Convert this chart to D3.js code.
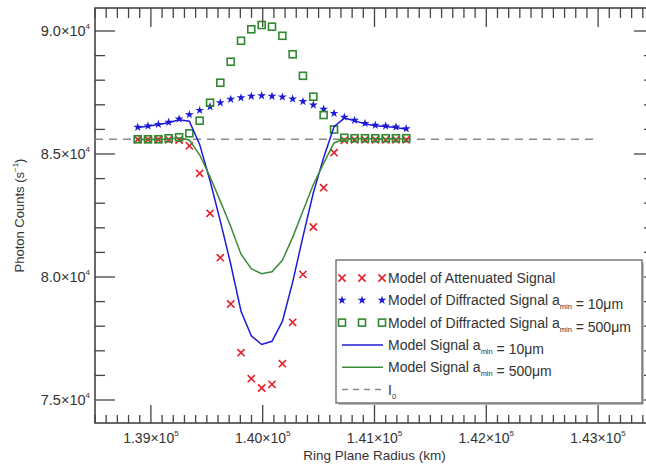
<!DOCTYPE html>
<html>
<head>
<meta charset="utf-8">
<script src="https://cdn.jsdelivr.net/npm/d3@7"></script>
<style>
  body { margin: 0; background: #fff; }
  svg { display: block; }
  text { font-family: "Liberation Sans", Arial, Helvetica, sans-serif; fill: #333; }
</style>
</head>
<body>
<svg id="chart" width="646" height="464"></svg>
<script>
// Ring plane radius of each model sample (km)
const radius = [138882, 138974, 139067, 139159, 139252, 139344, 139436, 139529, 139621,
  139714, 139806, 139898, 139991, 140083, 140176, 140268, 140360, 140453, 140545,
  140638, 140730, 140822, 140915, 141007, 141100, 141192, 141284];

// Photon counts (s^-1)
const attenuated = [85590, 85590, 85590, 85580, 85570, 85330, 84215, 82589, 80785,
  78902, 76923, 75866, 75488, 75637, 76476, 78157, 80108, 82033, 83631,
  85053, 85560, 85580, 85580, 85580, 85580, 85580, 85580];
const diffracted10 = [86089, 86142, 86207, 86293, 86423, 86602, 86776, 86923, 87085,
  87224, 87285, 87346, 87370, 87350, 87317, 87236, 87134, 86992, 86821,
  86654, 86500, 86370, 86245, 86170, 86140, 86100, 86030];
const diffracted500 = [85598, 85598, 85598, 85638, 85679, 85841, 86354, 87085, 87898,
  88752, 89602, 90069, 90244, 90175, 89805, 89053, 88179, 87329, 86585,
  85996, 85660, 85640, 85640, 85640, 85640, 85640, 85640];
const model10 = [86079, 86132, 86197, 86273, 86393, 86332, 85391, 83912, 82270,
  80526, 78608, 77612, 77258, 77387, 78193, 79793, 81642, 83425, 84852,
  86107, 86460, 86350, 86225, 86150, 86120, 86080, 86010];
const model500 = [85588, 85588, 85588, 85618, 85649, 85571, 84969, 84074, 83083,
  82054, 80925, 80335, 80132, 80212, 80681, 81610, 82687, 83762, 84616,
  85449, 85620, 85620, 85620, 85620, 85620, 85620, 85620];

// Unocculted signal level and its drawn extent
const i0 = 85600;
const i0Extent = [138500, 143000];

const xDomain = [138500, 143500];
const yDomain = [74065, 90935];
const xMajor = [139000, 140000, 141000, 142000, 143000];
const xLabels = ["1.39", "1.40", "1.41", "1.42", "1.43"];
const yMajor = [75000, 80000, 85000, 90000];
const yLabels = ["7.5", "8.0", "8.5", "9.0"];

const colors = { red: "#e3202b", blue: "#1c1ad6", green: "#2f8a2f", greenLine: "#3b8b3b", dash: "#8a8a8a", axis: "#444" };

const svg = d3.select("#chart");
const plot = { left: 95, right: 654, top: 8, bottom: 423 };

const x = d3.scaleLinear().domain(xDomain).range([plot.left, plot.right]);
const y = d3.scaleLinear().domain(yDomain).range([plot.bottom, plot.top]);

// Minor tick positions
const xMinor = d3.range(xDomain[0], xDomain[1] + 1, 100);
const yMinor = d3.range(75000, 91000, 1000).filter(v => v <= yDomain[1]);

const axisG = svg.append("g").attr("stroke", colors.axis).attr("stroke-width", 1.3);

// Frame
axisG.append("rect")
  .attr("x", plot.left).attr("y", plot.top)
  .attr("width", plot.right - plot.left).attr("height", plot.bottom - plot.top)
  .attr("fill", "none").attr("stroke-width", 1.6);

// Ticks on all four sides, pointing inward
xMinor.forEach(v => {
  const major = xMajor.includes(v);
  const len = major ? 18 : 8;
  axisG.append("line").attr("x1", x(v)).attr("x2", x(v))
    .attr("y1", plot.bottom).attr("y2", plot.bottom - len);
  axisG.append("line").attr("x1", x(v)).attr("x2", x(v))
    .attr("y1", plot.top).attr("y2", plot.top + (major ? 19 : 10));
});
yMinor.forEach(v => {
  const major = yMajor.includes(v);
  const len = major ? 20 : 10;
  axisG.append("line").attr("x1", plot.left).attr("x2", plot.left + len)
    .attr("y1", y(v)).attr("y2", y(v));
  axisG.append("line").attr("x1", plot.right).attr("x2", plot.right - len)
    .attr("y1", y(v)).attr("y2", y(v));
});

// Tick labels with powers of ten
xMajor.forEach((v, i) => {
  const t = svg.append("text").attr("x", x(v)).attr("y", 443)
    .attr("text-anchor", "middle").attr("font-size", 14);
  t.append("tspan").text(xLabels[i] + "×10");
  t.append("tspan").text("5").attr("font-size", 8).attr("dy", -7);
});
yMajor.forEach((v, i) => {
  const t = svg.append("text").attr("x", 90).attr("y", y(v) + 5)
    .attr("text-anchor", "end").attr("font-size", 14.5);
  t.append("tspan").text(yLabels[i] + "×10");
  t.append("tspan").text("4").attr("font-size", 8).attr("dy", -7);
});

// Axis titles
svg.append("text").attr("x", (plot.left + plot.right) / 2).attr("y", 460)
  .attr("text-anchor", "middle").attr("font-size", 13.5).text("Ring Plane Radius (km)");
const yt = svg.append("text").attr("transform", `translate(24,${(plot.top + plot.bottom) / 2}) rotate(-90)`)
  .attr("text-anchor", "middle").attr("font-size", 13);
yt.append("tspan").text("Photon Counts (s");
yt.append("tspan").text("−1").attr("font-size", 8).attr("dy", -6);
yt.append("tspan").text(")").attr("dy", 6);

// Marker symbols
const crossPath = s => `M${-s},${-s}L${s},${s}M${-s},${s}L${s},${-s}`;
const starPath = d3.symbol(d3.symbolStar, 24)();
const squareSize = 7;

function drawCross(g, cx, cy) {
  g.append("path").attr("transform", `translate(${cx},${cy})`).attr("d", crossPath(3.6))
    .attr("stroke", colors.red).attr("stroke-width", 1.6).attr("fill", "none");
}
function drawStar(g, cx, cy) {
  g.append("path").attr("transform", `translate(${cx},${cy})`).attr("d", starPath)
    .attr("fill", colors.blue);
}
function drawSquare(g, cx, cy) {
  g.append("rect").attr("x", cx - squareSize / 2).attr("y", cy - squareSize / 2)
    .attr("width", squareSize).attr("height", squareSize)
    .attr("fill", "none").attr("stroke", colors.green).attr("stroke-width", 1.6);
}

const dataG = svg.append("g");

// I0 reference level
dataG.append("line")
  .attr("x1", x(i0Extent[0])).attr("x2", x(i0Extent[1]))
  .attr("y1", y(i0)).attr("y2", y(i0))
  .attr("stroke", colors.dash).attr("stroke-width", 1.6).attr("stroke-dasharray", "8,6");

radius.forEach((r, i) => drawCross(dataG, x(r), y(attenuated[i])));
radius.forEach((r, i) => drawStar(dataG, x(r), y(diffracted10[i])));
radius.forEach((r, i) => drawSquare(dataG, x(r), y(diffracted500[i])));

const line = vals => d3.line().x((d, i) => x(radius[i])).y(d => y(d))(vals);
dataG.append("path").attr("d", line(model10)).attr("fill", "none")
  .attr("stroke", colors.blue).attr("stroke-width", 1.5);
dataG.append("path").attr("d", line(model500)).attr("fill", "none")
  .attr("stroke", colors.greenLine).attr("stroke-width", 1.5);

// Legend
const lg = svg.append("g");
const box = { x: 336, y: 260, w: 306, h: 143 };
lg.append("rect").attr("x", box.x + 2).attr("y", box.y + 2).attr("width", box.w).attr("height", box.h)
  .attr("rx", 2).attr("fill", "#bbb");
lg.append("rect").attr("x", box.x).attr("y", box.y).attr("width", box.w).attr("height", box.h)
  .attr("fill", "#fff").attr("stroke", "#666").attr("stroke-width", 1.3);

const rowY = i => 278 + i * 22.3;
const textX = 388;
const markX = [342, 362, 382];

function legendText(i, parts) {
  const t = lg.append("text").attr("x", textX).attr("y", rowY(i) + 5).attr("font-size", 14);
  parts.forEach(p => {
    if (p.sub) {
      t.append("tspan").text(p.sub).attr("font-size", 7.5).attr("dy", 4);
      t.append("tspan").text("").attr("dy", -4);
    } else {
      t.append("tspan").text(p.t);
    }
  });
}

markX.forEach(mx => drawCross(lg, mx, rowY(0)));
legendText(0, [{ t: "Model of Attenuated Signal" }]);

markX.forEach(mx => drawStar(lg, mx, rowY(1)));
legendText(1, [{ t: "Model of Diffracted Signal a" }, { sub: "min" }, { t: " = 10μm" }]);

markX.forEach(mx => drawSquare(lg, mx, rowY(2)));
legendText(2, [{ t: "Model of Diffracted Signal a" }, { sub: "min" }, { t: " = 500μm" }]);

lg.append("line").attr("x1", 342).attr("x2", 383).attr("y1", rowY(3)).attr("y2", rowY(3))
  .attr("stroke", colors.blue).attr("stroke-width", 1.5);
legendText(3, [{ t: "Model Signal a" }, { sub: "min" }, { t: " = 10μm" }]);

lg.append("line").attr("x1", 342).attr("x2", 383).attr("y1", rowY(4)).attr("y2", rowY(4))
  .attr("stroke", colors.greenLine).attr("stroke-width", 1.5);
legendText(4, [{ t: "Model Signal a" }, { sub: "min" }, { t: " = 500μm" }]);

lg.append("line").attr("x1", 342).attr("x2", 383).attr("y1", rowY(5)).attr("y2", rowY(5))
  .attr("stroke", colors.dash).attr("stroke-width", 1.5).attr("stroke-dasharray", "6,5");
legendText(5, [{ t: "I" }, { sub: "0" }]);
</script>
</body>
</html>
